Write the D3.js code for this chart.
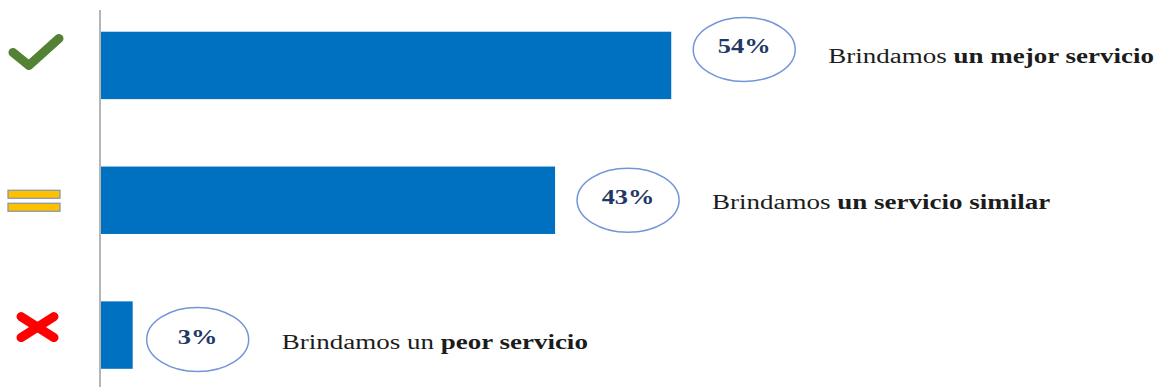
<!DOCTYPE html>
<html>
<head>
<meta charset="utf-8">
<script src="https://cdn.jsdelivr.net/npm/d3@7"></script>
<style>
  html, body { margin: 0; padding: 0; background: #ffffff; }
  svg { display: block; }
</style>
</head>
<body>
<svg id="chart" width="1161" height="387"></svg>
<script>
// Survey answers: how the service compares
const categories = ["mejor", "similar", "peor"];
const values = [54, 43, 3];
const labelPlain = ["Brindamos ", "Brindamos ", "Brindamos un "];
const labelBold = ["un mejor servicio", "un servicio similar", "peor servicio"];
const icons = ["check", "equal", "cross"];

// Per-row layout nudges (pixels, relative to the bar's centre line)
const bubbleDy = [-16, 0, 4.5];
const bubbleGap = [22, 22, 14];
const captionDy = [-2.5, 8.5, 13.5];
const iconDy = [-13, 0, -8.5];

const svg = d3.select("#chart");

const x = d3.scaleLinear().domain([0, 100]).range([101, 1157]);
const y = d3.scaleBand().domain(categories).range([-2, 402.5])
  .paddingInner(0.5).paddingOuter(0.25);

const rows = categories.map((c, i) => ({
  cat: c, value: values[i], plain: labelPlain[i], bold: labelBold[i], icon: icons[i], i
}));

// vertical axis line
svg.append("line")
  .attr("x1", 100).attr("x2", 100)
  .attr("y1", 10).attr("y2", 387)
  .attr("stroke", "#b5b5b5").attr("stroke-width", 2);

// bars
svg.selectAll("rect.bar").data(rows).join("rect")
  .attr("class", "bar")
  .attr("x", x(0))
  .attr("y", d => y(d.cat))
  .attr("width", d => x(d.value) - x(0))
  .attr("height", y.bandwidth())
  .attr("fill", "#0070c0");

const rx = 51, ry = 32;
const cy = d => y(d.cat) + y.bandwidth() / 2;
const bubbleCx = d => x(d.value) + bubbleGap[d.i] + rx;
const bubbleCy = d => cy(d) + bubbleDy[d.i];

// value bubbles
svg.selectAll("ellipse.bubble").data(rows).join("ellipse")
  .attr("class", "bubble")
  .attr("cx", bubbleCx)
  .attr("cy", bubbleCy)
  .attr("rx", rx).attr("ry", ry)
  .attr("fill", "#ffffff")
  .attr("stroke", "#7396d8")
  .attr("stroke-width", 1.5);

const pct = svg.selectAll("text.pct").data(rows).join("text")
  .attr("class", "pct")
  .attr("x", bubbleCx)
  .attr("y", d => bubbleCy(d) + 4)
  .attr("text-anchor", "middle")
  .attr("font-family", "'Liberation Serif', 'Times New Roman', serif")
  .attr("font-weight", "bold")
  .attr("font-size", 22)
  .attr("fill", "#1f3864")
  .text(d => d.value + "%");

// glyphs in the source are drawn wider than the plain font
const pctStretch = 1.2;
pct.each(function() {
  const w = this.getComputedTextLength();
  d3.select(this).attr("textLength", w * pctStretch).attr("lengthAdjust", "spacingAndGlyphs");
});

// captions
const cap = svg.selectAll("text.caption").data(rows).join("text")
  .attr("class", "caption")
  .attr("x", d => bubbleCx(d) + rx + 33)
  .attr("y", d => cy(d) + captionDy[d.i])
  .attr("font-family", "'Liberation Serif', 'Times New Roman', serif")
  .attr("font-size", 20)
  .attr("fill", "#1c1c1c");
cap.append("tspan").text(d => d.plain);
cap.append("tspan").attr("font-weight", "bold").text(d => d.bold);

const capStretch = 1.35;
cap.each(function() {
  const w = this.getComputedTextLength();
  d3.select(this).attr("textLength", w * capStretch).attr("lengthAdjust", "spacingAndGlyphs");
});

// row icons
const iconX = 35;
const iconG = svg.selectAll("g.icon").data(rows).join("g")
  .attr("class", "icon")
  .attr("transform", d => `translate(${iconX},${cy(d) + iconDy[d.i]})`);

iconG.filter(d => d.icon === "check").append("path")
  .attr("d", "M-22,0 L-6,13 L24,-14")
  .attr("fill", "none")
  .attr("stroke", "#548235")
  .attr("stroke-width", 9)
  .attr("stroke-linecap", "round")
  .attr("stroke-linejoin", "round");

const eq = iconG.filter(d => d.icon === "equal");
[-10, 3].forEach(off => {
  eq.append("rect")
    .attr("x", -27).attr("y", off)
    .attr("width", 52).attr("height", 8)
    .attr("fill", "#ffc000")
    .attr("stroke", "#7f93a8")
    .attr("stroke-width", 1.2);
});

const cr = iconG.filter(d => d.icon === "cross");
["M-14,-10 L19,11", "M-14,11 L19,-10"].forEach(p => {
  cr.append("path")
    .attr("d", p)
    .attr("stroke", "#ff0000")
    .attr("stroke-width", 9)
    .attr("stroke-linecap", "round");
});
</script>
</body>
</html>
